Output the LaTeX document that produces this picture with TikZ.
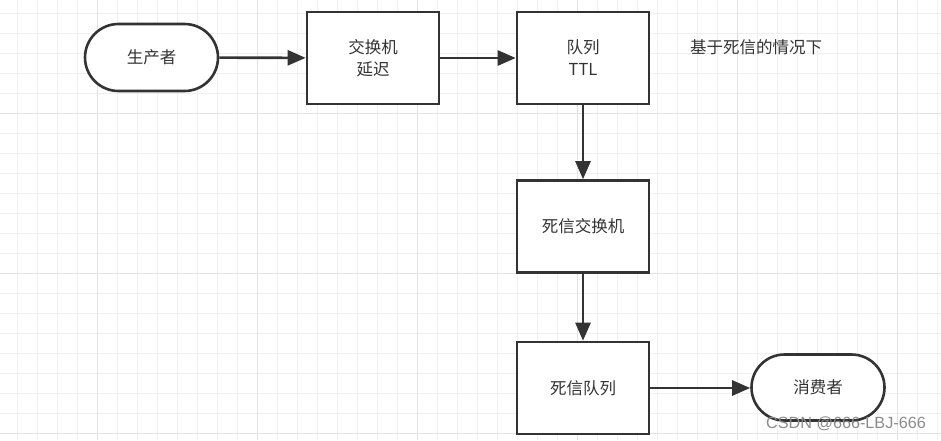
\documentclass[tikz,border=0pt]{standalone}
\usepackage{fontspec}
\setmainfont{Noto Sans CJK SC}
\newfontfamily\wmfont{Liberation Sans}
\usetikzlibrary{arrows.meta,shapes.misc}
\definecolor{ink}{HTML}{333333}
\definecolor{gridminor}{HTML}{F0F0F0}
\definecolor{gridmajor}{HTML}{E2E2E2}
\tikzset{
  x=1pt,y=-1pt,
  boxnode/.style={draw=ink,line width=2.6pt,fill=white,minimum width=132pt,minimum height=92pt,inner sep=0pt,align=center,font=\fontsize{16.5}{22}\selectfont,text=ink},
  termnode/.style={draw=ink,line width=2.6pt,fill=white,rounded rectangle,minimum width=133pt,minimum height=67pt,inner sep=0pt,font=\fontsize{16.5}{22}\selectfont,text=ink},
  flow/.style={draw=ink,line width=2.6pt,-{Triangle[length=18pt,width=15pt]}},
}
\begin{document}
\begin{tikzpicture}
\useasboundingbox (0,0) rectangle (941,440);
\fill[white] (0,0) rectangle (941,440);
% grid
\foreach \gx in {17,37,...,937} \draw[gridminor,line width=0.8pt] (\gx,0) -- (\gx,440);
\foreach \gy in {13,33,...,433} \draw[gridminor,line width=0.8pt] (0,\gy) -- (941,\gy);
\foreach \gx in {97,257,...,937} \draw[gridmajor,line width=0.9pt] (\gx,0) -- (\gx,440);
\foreach \gy in {113,273,433} \draw[gridmajor,line width=0.9pt] (0,\gy) -- (941,\gy);
% nodes
\node[termnode] (prod) at (151.5,57.5) {生产者};
\node[boxnode] (ex) at (373,58) {交换机\\延迟};
\node[boxnode] (q) at (583,58) {队列\\TTL};
\node[boxnode] (dlx) at (583,226.5) {死信交换机};
\node[boxnode] (dlq) at (583,388) {死信队列};
\node[termnode,minimum height=66pt] (cons) at (818,387.5) {消费者};
\node[font=\fontsize{16.5}{20}\selectfont,text=ink,anchor=west,inner sep=0pt] (note) at (690,47) {基于死信的情况下};
% connectors
\draw[flow] (prod) -- (ex);
\draw[flow] (ex) -- (q);
\draw[flow] (q) -- (dlx);
\draw[flow] (dlx) -- (dlq);
\draw[flow] (dlq.east) -- (dlq.east -| cons.west);
% watermark
\node[font=\wmfont\fontsize{16.2}{20}\selectfont,text=black!45,anchor=east,inner sep=0pt] (wm) at (926,424) {CSDN @666-LBJ-666};
\end{tikzpicture}
\end{document}
